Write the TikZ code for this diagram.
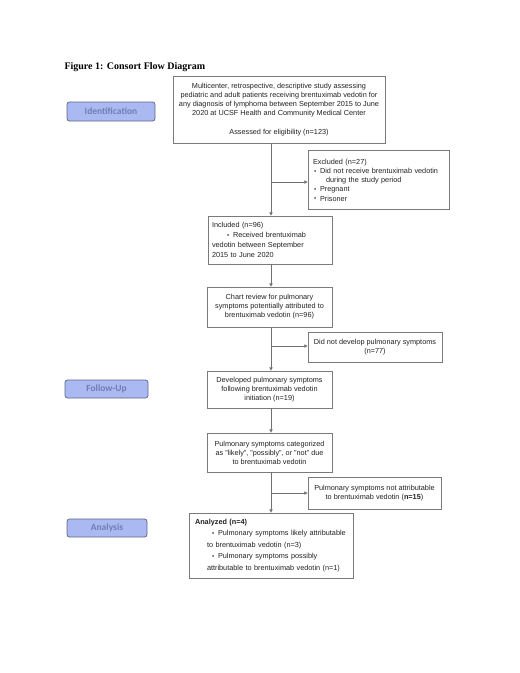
\documentclass[tikz,border=0pt]{standalone}
\usepackage{fontspec}
\setmainfont{Liberation Sans}
\newfontfamily\titlefont{Liberation Serif}
\newfontfamily\btnfont{Carlito}
\usetikzlibrary{arrows.meta}
\definecolor{linegray}{HTML}{707070}
\definecolor{boxgray}{HTML}{7A7A7A}
\definecolor{txt}{HTML}{222222}
\definecolor{btnfill}{HTML}{AAB9F2}
\definecolor{btndraw}{HTML}{5E6484}
\definecolor{btntext}{HTML}{6F7DB0}
\newcommand{\bul}{\makebox[6pt][l]{\raisebox{0.3pt}{\scalebox{0.85}{\textbullet}}}}
\begin{document}
\begin{tikzpicture}[x=1pt,y=-1pt,
  box/.style={draw=boxgray, line width=0.7pt, fill=white, text=txt, inner sep=0pt, align=center,
    font=\fontsize{7.3}{9}\selectfont},
  lbox/.style={box, align=left},
  btn/.style={draw=btndraw, line width=0.7pt, fill=btnfill, rounded corners=2.5pt, text=btntext,
    font=\btnfont\bfseries\fontsize{9.5}{11}\selectfont, inner sep=0pt},
  conn/.style={draw=linegray, line width=0.7pt},
  arr/.style={conn, -{Triangle[length=3.2pt,width=3.2pt]}}
]
\useasboundingbox (0,0) rectangle (520,673);

\node[anchor=west, font=\titlefont\bfseries\fontsize{10}{12}\selectfont] (title) at (61,67) {Figure 1: Consort Flow Diagram};

% side buttons
\node[btn, minimum width=88pt, minimum height=19pt] (ident) at (111,111.5) {Identification};
\node[btn, minimum width=83pt, minimum height=18pt] (follow) at (106.5,389) {Follow-Up};
\node[btn, minimum width=80pt, minimum height=18pt] (analysis) at (107,528) {Analysis};

% main boxes
\node[box, minimum width=212pt, minimum height=67pt] (top) at (279,109.5)
 {Multicenter, retrospective, descriptive study assessing\\
  pediatric and adult patients receiving brentuximab vedotin for\\
  any diagnosis of lymphoma between September 2015 to June\\
  2020 at UCSF Health and Community Medical Center\\[10pt]
  Assessed for eligibility (n=123)};

\node[lbox, minimum width=141pt, minimum height=59pt, text width=131pt, inner xsep=5pt,
  font=\fontsize{7.3}{9.3}\selectfont] (excl) at (378.5,180)
 {Excluded (n=27)\\
  \hspace*{1pt}\bul Did not receive brentuximab vedotin\\
  \hspace*{13pt}during the study period\\
  \hspace*{1pt}\bul Pregnant\\
  \hspace*{1pt}\bul Prisoner};

\node[lbox, minimum width=124pt, minimum height=48pt, text width=116pt, inner xsep=4pt,
  font=\fontsize{7.3}{10}\selectfont] (incl) at (270,240)
 {Included (n=96)\\
  \hspace*{15pt}\bul Received brentuximab\\
  vedotin between September\\
  2015 to June 2020};

\node[box, minimum width=125pt, minimum height=40pt] (chart) at (269.5,307)
 {Chart review for pulmonary\\symptoms potentially attributed to\\brentuximab vedotin (n=96)};

\node[box, minimum width=134pt, minimum height=30pt] (nodev) at (375,347)
 {Did not develop pulmonary symptoms\\(n=77)};

\node[box, minimum width=125pt, minimum height=37pt] (dev) at (269.5,389.5)
 {Developed pulmonary symptoms\\following brentuximab vedotin\\initiation (n=19)};

\node[box, minimum width=125pt, minimum height=39pt] (cat) at (269.5,452.5)
 {Pulmonary symptoms categorized\\as "likely", "possibly", or "not" due\\to brentuximab vedotin};

\node[box, minimum width=133pt, minimum height=32pt] (notattr) at (374.5,493)
 {Pulmonary symptoms not attributable\\to brentuximab vedotin (\textbf{n=15})};

\node[lbox, minimum width=164pt, minimum height=65pt, text width=152pt, inner xsep=6pt,
  font=\fontsize{7.3}{11.5}\selectfont] (anal) at (271,545.5)
 {\textbf{Analyzed (n=4)}\\
  \hspace*{17pt}\bul Pulmonary symptoms likely attributable\\
  \hspace*{12pt}to brentuximab vedotin (n=3)\\
  \hspace*{17pt}\bul Pulmonary symptoms possibly\\
  \hspace*{12pt}attributable to brentuximab vedotin (n=1)};

% branch points
\coordinate (b1) at (271,182);
\coordinate (b2) at (271,346);
\coordinate (b3) at (271,493);

% connectors
\draw[arr] (top.south -| b1) -- (incl.north -| b1);
\draw[arr] (b1) -- (b1 -| excl.west);
\draw[arr] (incl.south -| b1) -- (chart.north -| b1);
\draw[arr] (chart.south -| b2) -- (dev.north -| b2);
\draw[arr] (b2) -- (b2 -| nodev.west);
\draw[arr] (dev.south -| b2) -- (cat.north -| b2);
\draw[arr] (cat.south -| b3) -- (anal.north -| b3);
\draw[arr] (b3) -- (b3 -| notattr.west);
\end{tikzpicture}
\end{document}
